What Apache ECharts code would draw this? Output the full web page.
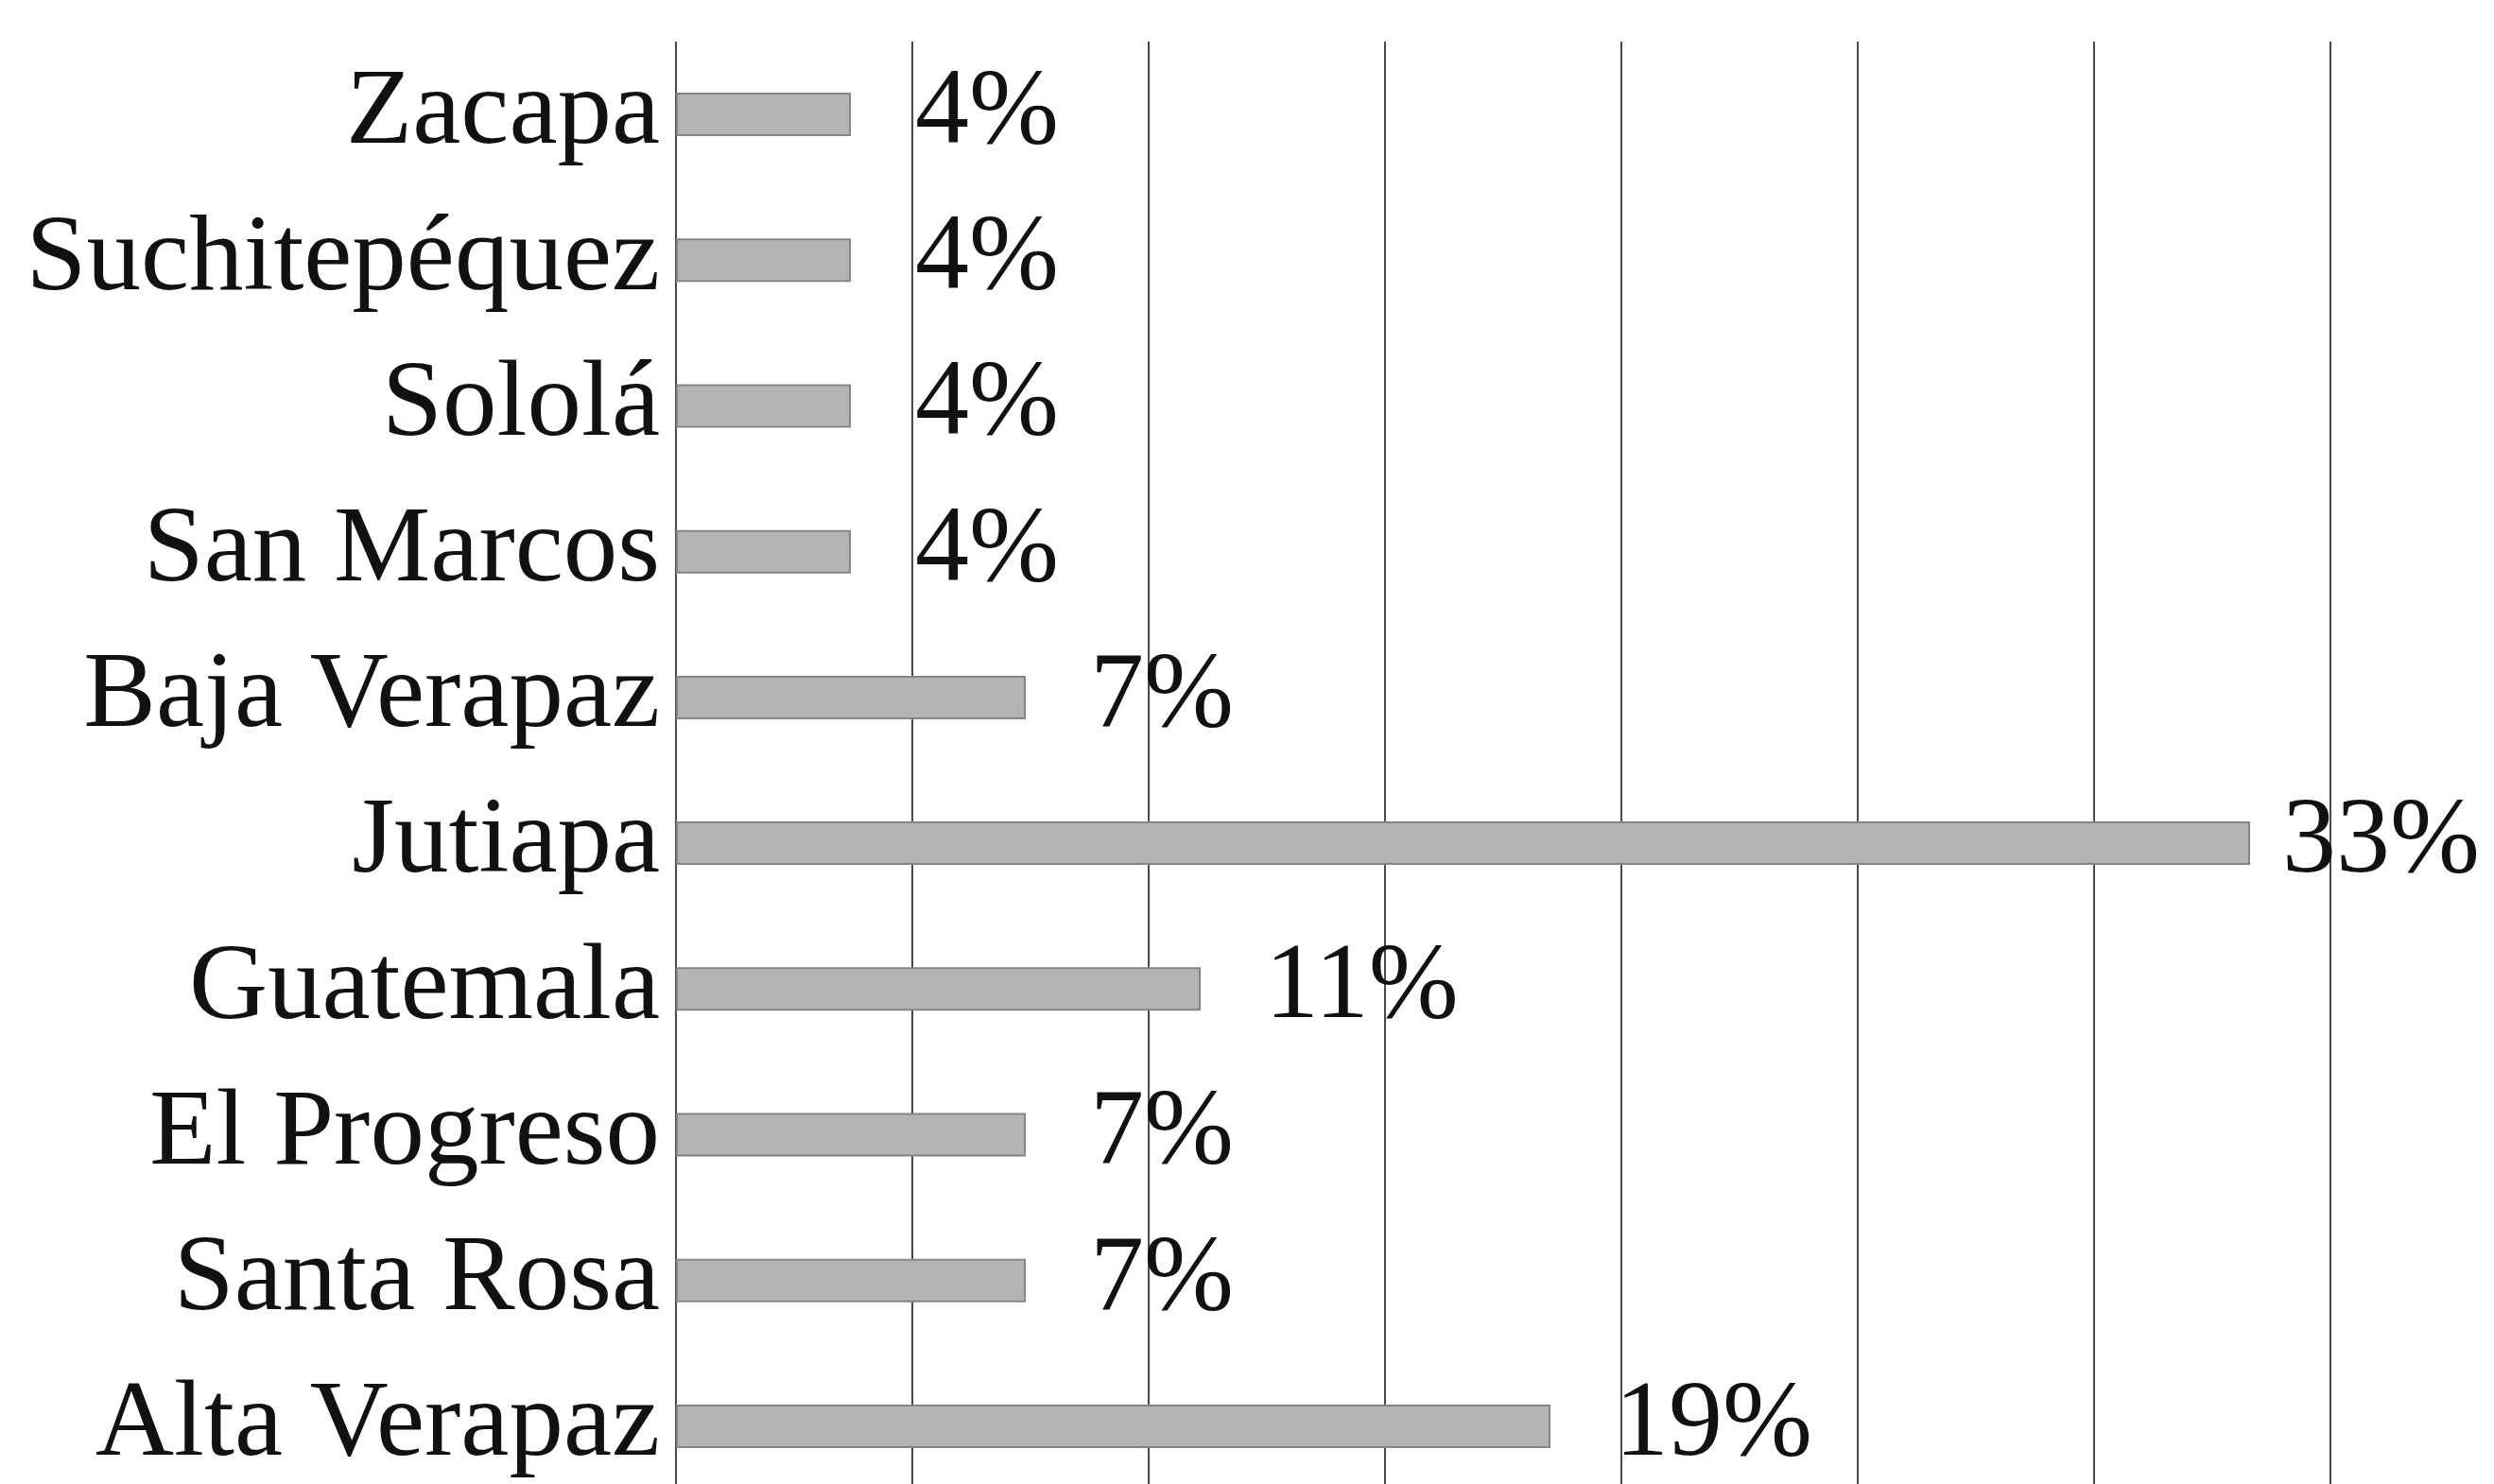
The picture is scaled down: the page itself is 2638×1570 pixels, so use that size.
<!DOCTYPE html>
<html>
<head>
<meta charset="utf-8">
<script src="https://cdn.jsdelivr.net/npm/echarts@6/dist/echarts.min.js"></script>
<style>
html,body{margin:0;padding:0;background:#fff;overflow:hidden;}
#chart{width:2638px;height:1600px;}
</style>
</head>
<body>
<div id="chart"></div>
<script>
// Categories, top to bottom
const departamentos = ['Zacapa','Suchitepéquez','Sololá','San Marcos','Baja Verapaz','Jutiapa','Guatemala','El Progreso','Santa Rosa','Alta Verapaz'];
// Percent values (bar lengths)
const porcentajes = [3.7, 3.7, 3.7, 3.7, 7.4, 33.3, 11.1, 7.4, 7.4, 18.5];
// Printed labels
const etiquetas = ['4%','4%','4%','4%','7%','33%','11%','7%','7%','19%'];
const ticksPct = [0,5,10,15,20,25,30,35];

const chart = echarts.init(document.getElementById('chart'));
const serif = '"Liberation Serif", "Times New Roman", serif';
chart.setOption({
  backgroundColor: '#ffffff',
  animation: false,
  grid: {left: 715, right: 173, top: 44, bottom: 14, containLabel: false},
  xAxis: {
    type: 'value', min: ticksPct[0], max: ticksPct[ticksPct.length-1], interval: 5,
    axisLabel: {show: false}, axisLine: {show: false}, axisTick: {show: false},
    splitLine: {show: true, lineStyle: {color: '#4a4a4a', width: 2}}
  },
  yAxis: {
    type: 'category', data: departamentos, inverse: true,
    axisLine: {show: false}, axisTick: {show: false},
    axisLabel: {fontFamily: serif, fontSize: 115, color: '#111', margin: 17}
  },
  series: [{
    type: 'bar',
    barWidth: 46,
    data: porcentajes.map((v, i) => ({
      value: v,
      label: {distance: departamentos[i] === 'Jutiapa' ? 34 : 68}
    })),
    itemStyle: {color: '#b4b4b4', borderColor: '#858585', borderWidth: 2},
    label: {
      show: true, position: 'right',
      fontFamily: serif, fontSize: 114, color: '#111',
      formatter: p => etiquetas[p.dataIndex]
    }
  }]
});
</script>
</body>
</html>
